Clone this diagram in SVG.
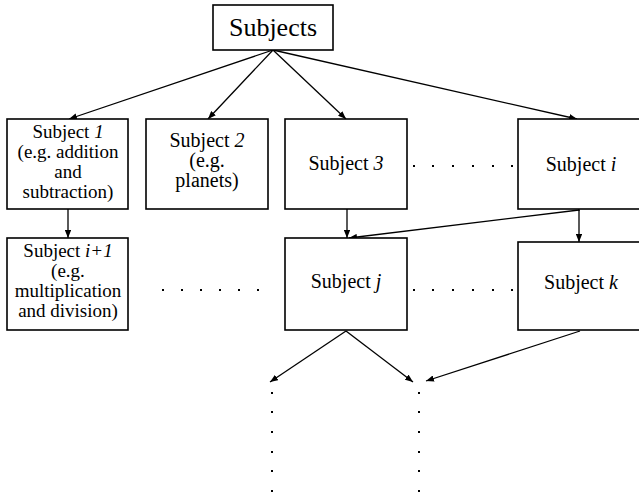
<svg xmlns="http://www.w3.org/2000/svg" width="639" height="496" viewBox="0 0 639 496">
  <style>
    .box { fill: #fff; stroke: #000; stroke-width: 1.6; }
    .lbl { font-family: "Liberation Serif", "Times New Roman", "DejaVu Serif", serif; font-size: 20px; fill: #000; text-anchor: middle; }
    .sm { font-size: 19px; }
    .title { font-size: 26px; }
    .it { font-style: italic; }
    .edge { stroke: #000; stroke-width: 1.3; fill: none; marker-end: url(#arrow); }
    .link { stroke: #000; stroke-width: 1.3; fill: none; }
    .dot { fill: #000; }
  </style>
  <defs>
    <marker id="arrow" viewBox="0 0 10 8" refX="10" refY="4" markerWidth="8" markerHeight="6.4" markerUnits="userSpaceOnUse" orient="auto">
      <path d="M0,0 L10,4 L0,8 Z" fill="#000"/>
    </marker>
  </defs>
  <rect width="639" height="496" fill="#fff"/>

  <!-- connectors -->
  <g id="connectors">
    <line class="edge" x1="273" y1="50" x2="69" y2="119"/>
    <line class="edge" x1="273" y1="50" x2="208" y2="119"/>
    <line class="edge" x1="273" y1="50" x2="346" y2="119"/>
    <line class="edge" x1="273" y1="50" x2="577" y2="119"/>
    <line class="edge" x1="68" y1="209" x2="68" y2="238"/>
    <line class="edge" x1="347" y1="209" x2="347" y2="238"/>
    <line class="link" x1="579" y1="209" x2="579" y2="211"/>
    <line class="edge" x1="579" y1="210" x2="349" y2="238"/>
    <line class="edge" x1="579" y1="210" x2="579" y2="242"/>
    <line class="edge" x1="346" y1="331" x2="270" y2="382"/>
    <line class="edge" x1="346" y1="331" x2="413" y2="382"/>
    <line class="edge" x1="580" y1="331" x2="426" y2="381"/>
  </g>

  <!-- nodes -->
  <g id="subjects">
    <rect class="box" x="213" y="5" width="120" height="45"/>
    <text class="lbl title" x="273" y="36" font-family="Liberation Serif, serif">Subjects</text>
  </g>
  <g id="subject-1">
    <rect class="box" x="7" y="119" width="121" height="90"/>
    <text class="lbl sm" x="68" y="138">Subject <tspan class="it">1</tspan></text>
    <text class="lbl sm" x="68" y="158">(e.g. addition</text>
    <text class="lbl sm" x="68" y="178">and</text>
    <text class="lbl sm" x="68" y="198">subtraction)</text>
  </g>
  <g id="subject-2">
    <rect class="box" x="146" y="119" width="122" height="90"/>
    <text class="lbl" x="207" y="147">Subject <tspan class="it">2</tspan></text>
    <text class="lbl" x="207" y="167">(e.g.</text>
    <text class="lbl" x="207" y="187">planets)</text>
  </g>
  <g id="subject-3">
    <rect class="box" x="285" y="119" width="122" height="90"/>
    <text class="lbl" x="346" y="170">Subject <tspan class="it">3</tspan></text>
  </g>
  <g id="subject-i">
    <rect class="box" x="518" y="119" width="124" height="90"/>
    <text class="lbl" x="581" y="171">Subject <tspan class="it">i</tspan></text>
  </g>
  <g id="subject-i1">
    <rect class="box" x="7" y="238" width="121" height="92"/>
    <text class="lbl sm" x="68" y="257">Subject <tspan class="it">i+1</tspan></text>
    <text class="lbl sm" x="68" y="277">(e.g.</text>
    <text class="lbl sm" x="68" y="297">multiplication</text>
    <text class="lbl sm" x="68" y="317">and division)</text>
  </g>
  <g id="subject-j">
    <rect class="box" x="285" y="238" width="122" height="92"/>
    <text class="lbl" x="346" y="288">Subject <tspan class="it">j</tspan></text>
  </g>
  <g id="subject-k">
    <rect class="box" x="518" y="242" width="124" height="88"/>
    <text class="lbl" x="581" y="289">Subject <tspan class="it">k</tspan></text>
  </g>

  <!-- ellipsis dots -->
  <g id="ellipses">
    <rect class="dot" x="413" y="165" width="2" height="2"/>
    <rect class="dot" x="432" y="165" width="2" height="2"/>
    <rect class="dot" x="452" y="165" width="2" height="2"/>
    <rect class="dot" x="472" y="165" width="2" height="2"/>
    <rect class="dot" x="492" y="165" width="2" height="2"/>
    <rect class="dot" x="511" y="165" width="2" height="2"/>

    <rect class="dot" x="162" y="289" width="2" height="2"/>
    <rect class="dot" x="181" y="289" width="2" height="2"/>
    <rect class="dot" x="200" y="289" width="2" height="2"/>
    <rect class="dot" x="219" y="289" width="2" height="2"/>
    <rect class="dot" x="238" y="289" width="2" height="2"/>
    <rect class="dot" x="257" y="289" width="2" height="2"/>

    <rect class="dot" x="413" y="289" width="2" height="2"/>
    <rect class="dot" x="432" y="289" width="2" height="2"/>
    <rect class="dot" x="452" y="289" width="2" height="2"/>
    <rect class="dot" x="472" y="289" width="2" height="2"/>
    <rect class="dot" x="492" y="289" width="2" height="2"/>
    <rect class="dot" x="511" y="289" width="2" height="2"/>

    <rect class="dot" x="271" y="392" width="2" height="2"/>
    <rect class="dot" x="271" y="411" width="2" height="2"/>
    <rect class="dot" x="271" y="431" width="2" height="2"/>
    <rect class="dot" x="271" y="451" width="2" height="2"/>
    <rect class="dot" x="271" y="470" width="2" height="2"/>
    <rect class="dot" x="271" y="490" width="2" height="2"/>

    <rect class="dot" x="418" y="392" width="2" height="2"/>
    <rect class="dot" x="418" y="411" width="2" height="2"/>
    <rect class="dot" x="418" y="431" width="2" height="2"/>
    <rect class="dot" x="418" y="451" width="2" height="2"/>
    <rect class="dot" x="418" y="470" width="2" height="2"/>
    <rect class="dot" x="418" y="490" width="2" height="2"/>
  </g>
</svg>
